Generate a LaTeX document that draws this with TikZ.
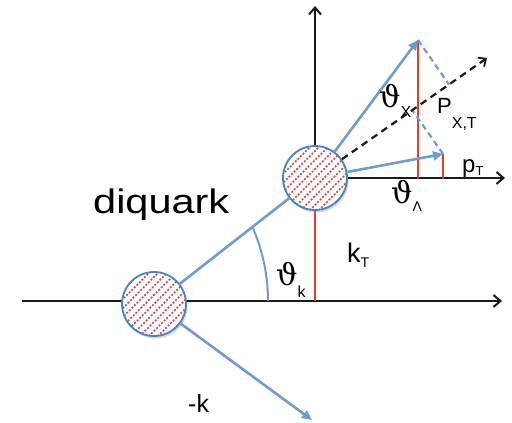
\documentclass[tikz,border=0pt]{standalone}
\usepackage{fontspec}
\usepackage{graphicx}
\setmainfont{Liberation Sans}
\newfontfamily\grk{DejaVu Serif}
\usetikzlibrary{arrows.meta,shadows,calc}
\definecolor{lblue}{RGB}{112,156,204}
\definecolor{cblue}{RGB}{72,130,195}
\definecolor{lred}{RGB}{236,58,42}
\definecolor{hred}{RGB}{210,70,70}
\definecolor{axblack}{RGB}{25,25,25}
\newcommand{\SubLab}[5]{{\fontsize{#1}{#1}\selectfont #2}\raisebox{-#5pt}{\fontsize{#3}{#3}\selectfont #4}}
\begin{document}
\begin{tikzpicture}[x=1pt,y=-1pt,
  axisline/.style={draw=axblack,line width=2.4pt,-{Straight Barb[length=7pt,width=12pt,line width=2pt]}},
  bl/.style={draw=lblue,line width=2.6pt},
  blarrow/.style={bl,-{Triangle[length=10pt,width=9pt]}},
  redline/.style={draw=lred,line width=2.4pt},
  bdash/.style={draw=lblue,line width=2.2pt,dash pattern=on 6pt off 4pt},
  kdash/.style={draw=axblack,line width=2.2pt,dash pattern=on 7pt off 5pt,-{Straight Barb[length=6pt,width=11pt,line width=1.8pt]}},
  blob/.style={circle,draw=cblue,line width=1.8pt,fill=white,minimum size=64pt,inner sep=0pt,
    drop shadow={opacity=0.3,shadow xshift=1.5pt,shadow yshift=-2.5pt},
    path picture={\foreach \i in {-54,-45,...,54}{
      \draw[draw=hred,line width=1.5pt,dash pattern=on 2pt off 1.6pt]
        ([xshift=\i pt-40pt,yshift=-40pt]path picture bounding box.center) -- ++(80pt,80pt);}}},
  lbl/.style={anchor=base west,inner sep=0pt,text=black}]
\useasboundingbox (0,0) rectangle (512,423);
\fill[white] (0,0) rectangle (512,423);
% lower axis
\coordinate (axL) at (22,301);
\coordinate (axR) at (502,301);
\draw[axisline] (axL) -- (axR);
% blobs
\node[blob] (lo) at (154,304) {};
\node[blob] (up) at (315,178) {};
% coordinates
\coordinate (vtop) at (315,6);
\coordinate (hR) at (505,178);
\coordinate (kfoot) at (315,301);
\coordinate (Ptip) at (418,40);
\coordinate (PB) at (418,179);
\coordinate (pTtip) at (443,154);
\coordinate (pTB) at (443,179);
\coordinate (Dtip) at (487,58);
\coordinate (ktip) at (312,420);
\coordinate (arcS) at (268,301);
% upper axes
\draw[axisline] (up) -- (vtop);
\draw[axisline] (up.east) -- (hR);
% red lines
\draw[redline] (up.south) -- (kfoot);
\draw[redline] (PB) -- (Ptip);
\draw[redline] (pTB) -- (pTtip);
% blue lines
\draw[bl] (lo) -- (up);
\draw[blarrow] (up) -- (Ptip);
\draw[blarrow] (up) -- (pTtip);
\draw[blarrow] (lo) -- (ktip);
\draw[bl,line width=2pt] (arcS) arc[start angle=0,end angle=-24,radius=184];
% projections
\draw[bdash] (Ptip) -- ($(up)!(Ptip)!(Dtip)$);
\draw[bdash] (pTtip) -- ($(up)!(pTtip)!(Dtip)$);
\draw[kdash] (up) -- (Dtip);
% labels
\node[lbl] (dq) at (93,213) {\scalebox{1.22}[1]{\fontsize{34}{34}\selectfont diquark}};
\node[lbl] (thX) at (379,107) {\SubLab{30}{\grk ϑ}{16}{X}{10}};
\node[lbl] (PXT) at (437,113) {\SubLab{22}{P}{16}{X,T}{15}};
\node[lbl] (pT) at (462,172) {\SubLab{24}{p}{13}{T}{3}};
\node[lbl] (thL) at (391,203) {\SubLab{30}{\grk ϑ}{14}{Λ}{8}};
\node[lbl] (thk) at (276,285) {\SubLab{30}{\grk ϑ}{16}{k}{12}};
\node[lbl] (kT) at (347,262) {\SubLab{27}{k}{14}{T}{5}};
\node[lbl] (mk) at (188,412) {\fontsize{25}{25}\selectfont -k};
\end{tikzpicture}
\end{document}
